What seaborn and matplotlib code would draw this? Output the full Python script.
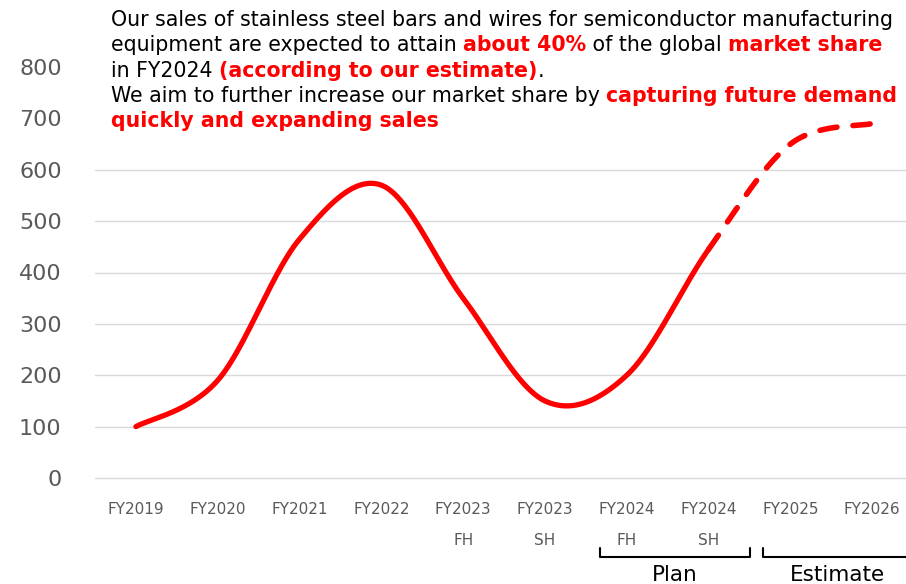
import numpy as np
import matplotlib
matplotlib.use("Agg")
import matplotlib.pyplot as plt
import seaborn as sns
from matplotlib.lines import Line2D
from matplotlib.transforms import blended_transform_factory

# Sales of stainless steel bars and wires for semiconductor equipment
periods = ["FY2019", "FY2020", "FY2021", "FY2022", "FY2023\nFH", "FY2023\nSH",
           "FY2024\nFH", "FY2024\nSH", "FY2025", "FY2026"]
sales = [100, 190, 465, 570, 350, 150, 200, 445, 650, 690]
y_ticks = [0, 100, 200, 300, 400, 500, 600, 700, 800]
grid_levels = [0, 100, 200, 300, 400, 500, 600]

headline = [
    [("Our sales of stainless steel bars and wires for semiconductor manufacturing", False)],
    [("equipment are expected to attain ", False), ("about 40%", True),
     (" of the global ", False), ("market share", True)],
    [("in FY2024 ", False), ("(according to our estimate)", True), (".", False)],
    [("We aim to further increase our market share by ", False),
     ("capturing future demand", True)],
    [("quickly and expanding sales", True)],
]

RED = "#FF0000"
GREY = "#595959"

sns.set_theme(style="white")
plt.rcParams["font.family"] = ["DejaVu Sans"]

W, H = 906, 584
fig = plt.figure(figsize=(W / 100, H / 100), dpi=100)
ax = fig.add_axes([95 / W, 106 / H, 1 - 95 / W, 411 / H])


def smooth(values, first, last, n=80):
    """Bezier curve through the points (Catmull-Rom style control points)."""
    pts = np.column_stack([np.arange(len(values)), values]).astype(float)
    padded = np.vstack([pts[0], pts, pts[-1]])
    xs, ys = [], []
    t = np.linspace(0, 1, n)[:, None]
    for i in range(first, last):
        p0, p1, p2, p3 = padded[i], padded[i + 1], padded[i + 2], padded[i + 3]
        c1 = p1 + (p2 - p0) / 6
        c2 = p2 - (p3 - p1) / 6
        seg = (1 - t) ** 3 * p1 + 3 * (1 - t) ** 2 * t * c1 + 3 * (1 - t) * t ** 2 * c2 + t ** 3 * p2
        if i > first:
            seg = seg[1:]
        xs.append(seg[:, 0])
        ys.append(seg[:, 1])
    return np.concatenate(xs), np.concatenate(ys)


# grid
for lv in grid_levels:
    ax.axhline(lv, color="#D9D9D9", lw=1.0, zorder=0, clip_on=False)

# actual / plan (solid) and estimate (dashed)
sx, sy = smooth(sales, 0, 7)
sns.lineplot(x=sx, y=sy, sort=False, estimator=None, color=RED, linewidth=3.8, ax=ax)
ax.lines[-1].set_solid_capstyle("round")
dx, dy = smooth(sales, 7, 9)
sns.lineplot(x=dx, y=dy, sort=False, estimator=None, color=RED, linewidth=4.0, ax=ax)
ax.lines[-1].set_linestyle((0, (3.1, 2.9)))
ax.lines[-1].set_dash_capstyle("round")

ax.set_xlim(-0.5, (W - 136) / 81.8)
ax.set_ylim(0, 800)
ax.set_xticks(range(len(periods)))
ax.set_xticklabels(periods)
ax.set_yticks(y_ticks)
ax.set_xlabel("")
ax.set_ylabel("")
ax.tick_params(axis="x", length=0, pad=17, labelsize=11, labelcolor=GREY)
ax.tick_params(axis="y", length=0, pad=24, labelsize=16, labelcolor=GREY)
for lbl in ax.get_xticklabels():
    lbl.set_linespacing(2.4)
sns.despine(ax=ax, left=True, bottom=True)
ax.grid(False)

# headline text with highlighted phrases
renderer = fig.canvas.get_renderer()
FS = 14.8


def text_width(s, bold):
    kw = dict(fontsize=FS, fontweight="bold" if bold else "normal")
    a = fig.text(0, 0, "I" + s + "I", **kw)
    b = fig.text(0, 0, "II", **kw)
    w = a.get_window_extent(renderer).width - b.get_window_extent(renderer).width
    a.remove()
    b.remove()
    return w


baselines = [26, 51, 77, 102, 127]
for line, base in zip(headline, baselines):
    x = 111
    for s, bold in line:
        fig.text(x / W, 1 - base / H, s, fontsize=FS, va="baseline", ha="left",
                 fontweight="bold" if bold else "normal",
                 color=RED if bold else "black")
        x += text_width(s, bold)

# Plan / Estimate brackets
tr = blended_transform_factory(ax.transData, fig.transFigure)
for (x0, x1), label in [((5.67, 7.51), "Plan"), ((7.67, 9.47), "Estimate")]:
    ln = Line2D([x0, x0, x1, x1], [1 - 548 / H, 1 - 557 / H, 1 - 557 / H, 1 - 548 / H],
                transform=tr, color="black", lw=1.5, clip_on=False)
    fig.add_artist(ln)
    fig.text((x0 + x1) / 2, 1 - 581 / H, label, transform=tr, ha="center",
             va="baseline", fontsize=15.5, color="black")

fig.savefig("out.png", dpi=100)
